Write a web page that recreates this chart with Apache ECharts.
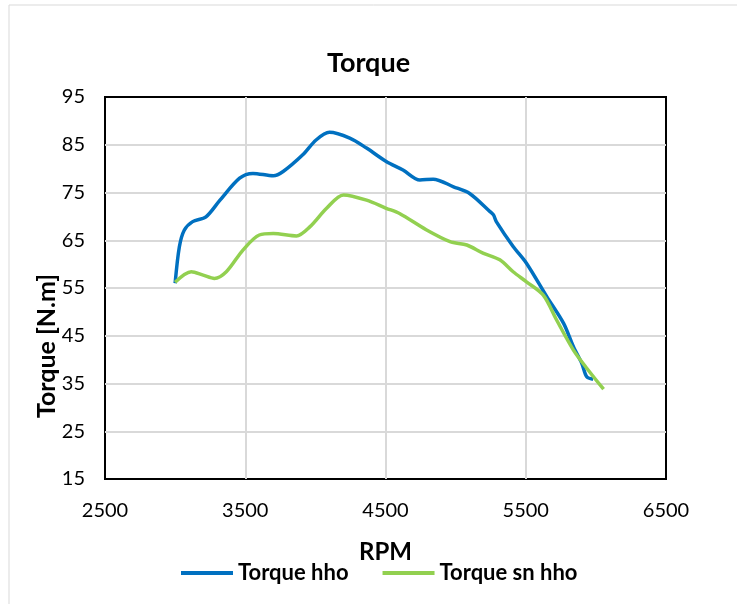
<!DOCTYPE html>
<html>
<head>
<meta charset="utf-8">
<script src="https://cdn.jsdelivr.net/npm/echarts@6/dist/echarts.min.js"></script>
<style>
  html, body { margin: 0; padding: 0; background: #fff; }
  #torqueChart { width: 737px; height: 604px; }
</style>
</head>
<body>
<div id="torqueChart"></div>
<script>
// RPM / torque
var rpmHho = [3000, 3030, 3065, 3125, 3220, 3320, 3460, 3555, 3700, 3770, 3910, 4005, 4100, 4245, 4365, 4505, 4625, 4745, 4840, 4985, 5100, 5245, 5270, 5290, 5410, 5505, 5650, 5770, 5840, 5900, 5935, 5980]
var torqueHho = [56, 63.6, 67.1, 68.9, 69.9, 73.4, 78.0, 79.0, 78.5, 79.4, 82.9, 86.0, 87.6, 86.4, 84.3, 81.5, 79.7, 77.6, 77.8, 76.2, 74.8, 71.0, 70.3, 68.9, 63.7, 60.2, 53.2, 47.6, 42.7, 39.2, 36.4, 35.9]
var rpmSnHho = [3000, 3115, 3200, 3280, 3365, 3485, 3600, 3700, 3865, 3960, 4080, 4200, 4365, 4505, 4600, 4790, 4960, 5080, 5195, 5315, 5410, 5505, 5625, 5720, 5840, 5935, 6055]
var torqueSnHho = [56.2, 58.4, 57.7, 57.0, 58.4, 63.0, 66.1, 66.4, 65.9, 67.8, 71.7, 74.5, 73.4, 71.7, 70.6, 67.2, 64.7, 64.0, 62.3, 60.9, 58.4, 56.3, 53.5, 48.3, 42.0, 38.2, 33.8]
var seriesNames = ['Torque hho', 'Torque sn hho']

function pairs(xs, ys) {
  return xs.map(function(x, i) { return [x, ys[i]] })
}

var font = 'Lato, "Open Sans", sans-serif'
var chart = echarts.init(document.getElementById('torqueChart'))
chart.setOption({
  backgroundColor: '#fff',
  animation: false,
  textStyle: { fontFamily: font, color: '#000' },
  title: {
    text: 'Torque',
    left: 'center',
    top: 45,
    textStyle: { fontFamily: font, fontSize: 27, fontWeight: 'bold', color: '#000' }
  },
  graphic: [
    {
      type: 'rect',
      shape: { x: 9, y: 5, width: 740, height: 610 },
      style: { fill: 'none', stroke: '#d9d9d9', lineWidth: 1 },
      z: -1
    },
    {
      type: 'text',
      x: 47,
      y: 346,
      rotation: Math.PI / 2,
      style: {
        text: 'Torque [N.m]',
        font: 'bold 25px ' + font,
        fill: '#000',
        textAlign: 'center',
        textVerticalAlign: 'middle'
      }
    }
  ],
  legend: {
    bottom: 15,
    left: 176,
    itemWidth: 52,
    itemHeight: 4,
    itemGap: 34,
    icon: 'rect',
    textStyle: { fontFamily: font, fontSize: 22, fontWeight: 'bold', color: '#000' },
    data: seriesNames
  },
  grid: {
    left: 105,
    right: 71,
    top: 97,
    bottom: 125,
    show: true,
    borderColor: '#000',
    borderWidth: 2
  },
  xAxis: {
    type: 'value',
    min: 2500,
    max: 6500,
    interval: 1000,
    name: 'RPM',
    nameLocation: 'middle',
    nameGap: 61,
    nameTextStyle: { fontFamily: font, fontSize: 24, fontWeight: 'bold', color: '#000' },
    axisLine: { show: false },
    axisTick: { show: false },
    axisLabel: { fontSize: 20, color: '#000', margin: 22, formatter: function(v) { return String(v) } },
    splitLine: { showMinLine: false, showMaxLine: false, lineStyle: { color: '#d9d9d9', width: 2 } }
  },
  yAxis: {
    type: 'value',
    min: 15,
    max: 95,
    interval: 10,
    axisLine: { show: false },
    axisTick: { show: false },
    axisLabel: { fontSize: 20, color: '#000', margin: 20 },
    splitLine: { showMinLine: false, showMaxLine: false, lineStyle: { color: '#d9d9d9', width: 2 } }
  },
  series: [
    {
      name: seriesNames[0],
      type: 'line',
      smooth: 0.3,
      showSymbol: false,
      color: '#0070C0',
      lineStyle: { width: 3.5 },
      data: pairs(rpmHho, torqueHho)
    },
    {
      name: seriesNames[1],
      type: 'line',
      smooth: 0.3,
      showSymbol: false,
      color: '#92D050',
      lineStyle: { width: 3.5 },
      data: pairs(rpmSnHho, torqueSnHho)
    }
  ]
})
</script>
</body>
</html>
